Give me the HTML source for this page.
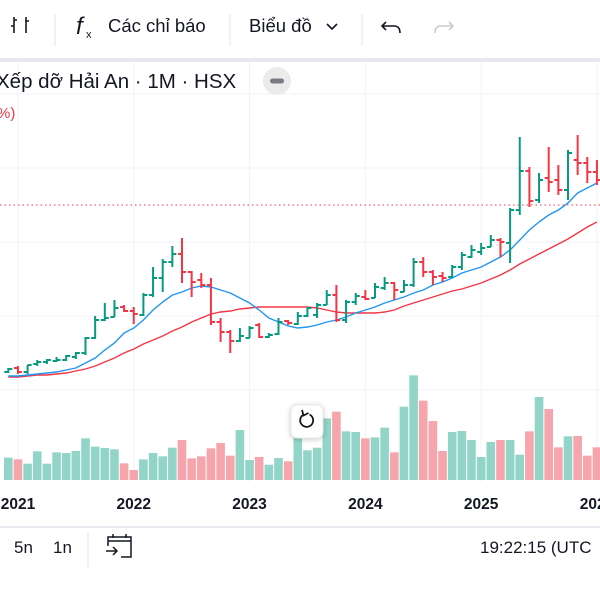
<!DOCTYPE html>
<html><head><meta charset="utf-8">
<style>
html,body{margin:0;padding:0;background:#fff;width:600px;height:600px;overflow:hidden;font-family:"Liberation Sans","Noto Sans CJK JP",sans-serif;}
svg text{font-family:"Liberation Sans","Noto Sans CJK JP",sans-serif;}
</style></head>
<body>
<svg id="chart" width="600" height="600" viewBox="0 0 600 600" xmlns="http://www.w3.org/2000/svg">
  <rect x="0" y="0" width="600" height="600" fill="#fff"/>
  <g>
    <g stroke="#131722" stroke-width="1.6" fill="none">
      <path d="M14 17 V33 M11 26 H14 M26 17 V33 M26 21 H29 M17 20 H14"/>
    </g>
    <line x1="55" y1="14" x2="55" y2="46" stroke="#e0e3eb"/>
    <text x="76" y="34" font-size="24" font-style="italic" fill="#131722">f</text>
    <text x="86" y="38" font-size="11" fill="#131722">x</text>
    <text x="108" y="32" font-size="18.5" fill="#131722">Các chỉ báo</text>
    <line x1="230" y1="14" x2="230" y2="46" stroke="#e0e3eb"/>
    <text x="249" y="32" font-size="18.5" fill="#131722">Biểu đồ</text>
    <path d="M327 24 L332 29 L337 24" stroke="#131722" stroke-width="1.6" fill="none"/>
    <line x1="362" y1="14" x2="362" y2="46" stroke="#e0e3eb"/>
    <path d="M386 22 L382 26 L386 30 M382 26 H394 Q400 26 400 33" stroke="#131722" stroke-width="1.6" fill="none"/>
    <path d="M449 22 L453 26 L449 30 M453 26 H441 Q435 26 435 33" stroke="#c9cbd1" stroke-width="1.6" fill="none"/>
  </g>
  <rect x="0" y="58" width="600" height="4" fill="#e6e8ee"/>
  <g id="grid"></g>
  <g id="vol"></g>
  <g id="ma"></g>
  <line x1="0" y1="205" x2="600" y2="205" stroke="#f23645" stroke-width="1" stroke-dasharray="1.5,3"/>
  <g id="candles"></g>
  <text x="-4" y="88" font-size="20.5" fill="#131722">Xếp dỡ Hải An · 1M · HSX</text>
  <circle cx="277" cy="81" r="14" fill="#ebebeb"/>
  <rect x="270" y="78.5" width="14" height="5" rx="2.5" fill="#787b86"/>
  <text x="-3" y="118" font-size="15" fill="#f23645">%)</text>
  <g>
    <rect x="291" y="405" width="32" height="33" rx="6" fill="#fff" stroke="#e8e8e8" style="filter:drop-shadow(0 1px 3px rgba(0,0,0,0.2))"/>
    <path d="M303 415 A6.5 6.5 0 1 0 309.5 414.5" stroke="#131722" stroke-width="1.8" fill="none"/>
    <path d="M302 410 L303.5 415.5 L308.5 413" stroke="#131722" stroke-width="1.8" fill="none"/>
  </g>
  <g id="xaxis"></g>
  <line x1="0" y1="527" x2="600" y2="527" stroke="#e0e3eb" stroke-width="1.5"/>
  <text x="14" y="553" font-size="17" fill="#131722">5n</text>
  <text x="53" y="553" font-size="17" fill="#131722">1n</text>
  <line x1="88" y1="532" x2="88" y2="568" stroke="#e0e3eb"/>
  <g stroke="#131722" stroke-width="1.5" fill="none">
    <path d="M108 546 V537 H131 V557 H121 M108 541 H131 M113 534 V538 M126 534 V538 M106 551 H117 M113 547 L117 551 L113 555"/>
  </g>
  <text x="480" y="553" font-size="17" fill="#131722">19:22:15 (UTC</text>
</svg>
<script>
const years = ["2021","2022","2023","2024","2025","2026"];
const opens  = [12,13,12,14,14.5,14.75,15,15.75,16.75,20.5,25,25.75,28.25,27.25,26.25,31.25,35.5,39.5,41.5,37,35,33.75,24.5,22,19.75,20.5,23.75,20.75,21.5,24.75,24,26,26.25,28.75,31.25,25,29.5,30.75,30.5,33,34.25,32,33.75,39.5,37,36,35.75,38.25,40.75,42,43.25,45,44.25,52.5,62.25,55,60.5,60,57.5,65,64.25,62];
const highs  = [13,13.5,13.75,15,15.25,15.75,16.25,17,20.75,26,29.25,30,28.75,28.25,31.75,38.25,40.25,43.5,45.5,37.25,36.75,35.5,25.5,22.5,23,23.5,24.25,21.75,25.5,25,27,28.25,29.25,32.5,33.75,30,31.75,32.5,34.25,35.75,34.5,35,40.5,40.75,37.5,37,38.75,42,43.75,44.25,46.25,45.5,53,70.75,63.25,61.75,68.25,63.75,67.5,71.25,65.75,65];
const lows   = [11.75,11.5,11.5,13.5,14,14.5,14.75,15.25,16.25,20.25,24.75,25.75,27,24,26,30.75,32,38.25,34.25,30.75,33,23.75,19.5,16.75,19.5,20.5,20.5,20.5,21.25,23.75,23.75,25.75,25.5,28.75,24.5,24.25,28.75,30,30.5,32.5,30,32,33.25,35.75,33.75,34.5,35.5,37.5,40.5,41.25,43.25,40.75,39.25,51.25,53.25,54.25,57,56.25,55,61.25,59.25,58.75];
const closes = [12.75,12,13.75,14.5,15,15,16,16.75,20.5,25,25.5,28,27.25,26.5,31.25,35.5,39.5,41.5,37,34.5,33.75,24.5,22,19.75,21,23,20.75,21.25,24.5,24.25,26,28,28.75,31.25,25,29.5,31,30.25,33.25,34.25,32.5,33.75,39.5,37,35.75,35.5,38.25,41.25,42.5,43,45,44.5,52.5,62.25,54.75,60,59.5,57.5,66.75,64.25,62,60];
const volumes = [67,62,49,86,49,83,81,87,125,100,96,92,50,30,62,81,71,97,120,65,71,95,111,73,150,60,69,46,66,56,130,89,97,185,205,146,144,125,128,157,83,220,314,238,177,87,144,147,120,69,114,120,120,76,146,249,213,98,131,132,73,98];
const maFast = [11,11,11.25,11.5,11.75,12,12.5,13,14.25,15.5,17.5,19.25,21.75,23,25,27.5,29.5,31.25,32,33,33.5,33.25,32.5,31.75,30.5,29.25,27.5,25.5,24.5,23.5,23,23.25,23.75,24.5,25,25.75,26.75,27.5,28.25,29.25,30,30.75,31.75,32.5,33.75,34.5,35.5,36.75,37.5,38.25,39.5,40.75,42.5,45,47.5,49.5,51.25,52.5,54.25,56.75,58,59.25];
const maSlow = [10.75,10.75,11,11.25,11.25,11.5,11.75,12.25,12.75,13.5,14.5,15.5,16.75,17.75,19,20,21,22.25,23.25,24.5,25.5,26.5,27,27.25,27.75,28,28.25,28.25,28.25,28.25,28.25,28.25,28,27.5,27,26.75,26.75,26.75,26.75,27,27.5,28.5,29.25,30,30.75,31.5,32.25,32.75,33.5,34.25,35.25,36.25,37.5,39,40.25,41.5,42.75,44,45.25,46.75,48.25,49.5];

const NS = "http://www.w3.org/2000/svg";
const X0 = 8.3, STEP = 9.65;
function xScale(i){ return X0 + i*STEP; }
function yScale(p){ return 420 - p*4; }
function vScale(v){ return v/3; }
const VBASE = 480;
const UP = "#089981", DN = "#f23645", VUP = "#92d5c8", VDN = "#f7a5ad";
function mk(tag, attrs, parent){ const e=document.createElementNS(NS,tag); for(const k in attrs) e.setAttribute(k,attrs[k]); parent.appendChild(e); return e; }

const grid = document.getElementById('grid');
[94,168,242,316,390].forEach(y=>{ mk('line',{x1:0,x2:600,y1:y,y2:y,stroke:'#f0f3fa','stroke-width':1},grid); });
const xa = document.getElementById('xaxis');
years.forEach((yr,k)=>{
  const x = xScale(1 + k*12);
  mk('line',{x1:x,x2:x,y1:62,y2:482,stroke:'#f0f3fa','stroke-width':1},grid);
  const t = mk('text',{x:x,y:509,'font-size':15.5,'font-weight':'bold','text-anchor':'middle',fill:'#131722'},xa);
  
  
  t.textContent = yr;
});

const vol = document.getElementById('vol');
volumes.forEach((v,i)=>{
  const h = vScale(v);
  const r = mk('rect',{x:xScale(i)-4.3,y:VBASE-h,width:8.6,height:h,fill: closes[i]>=opens[i]?VUP:VDN},vol);
  
  
});

const ma = document.getElementById('ma');
function line(arr,color,name){
  const d = arr.map((v,i)=>(i?'L':'M')+xScale(i).toFixed(1)+' '+yScale(v).toFixed(1)).join(' ');
  const p = mk('path',{d:d,stroke:color,'stroke-width':1.4,fill:'none'},ma);
  
  
}
line(maSlow,'#f23645','ma-slow-line');
line(maFast,'#2196f3','ma-fast-line');

const cg = document.getElementById('candles');
opens.forEach((o,i)=>{
  const x = xScale(i), c = closes[i];
  const col = c>=o?UP:DN;
  const g = mk('g',{stroke:col,'stroke-width':2,fill:'none'},cg);
  
  
  mk('path',{d:`M${x} ${yScale(highs[i])} V${yScale(lows[i])} M${x-4} ${yScale(o)} H${x} M${x} ${yScale(c)} H${x+4}`},g);
});
</script>
</body></html>
